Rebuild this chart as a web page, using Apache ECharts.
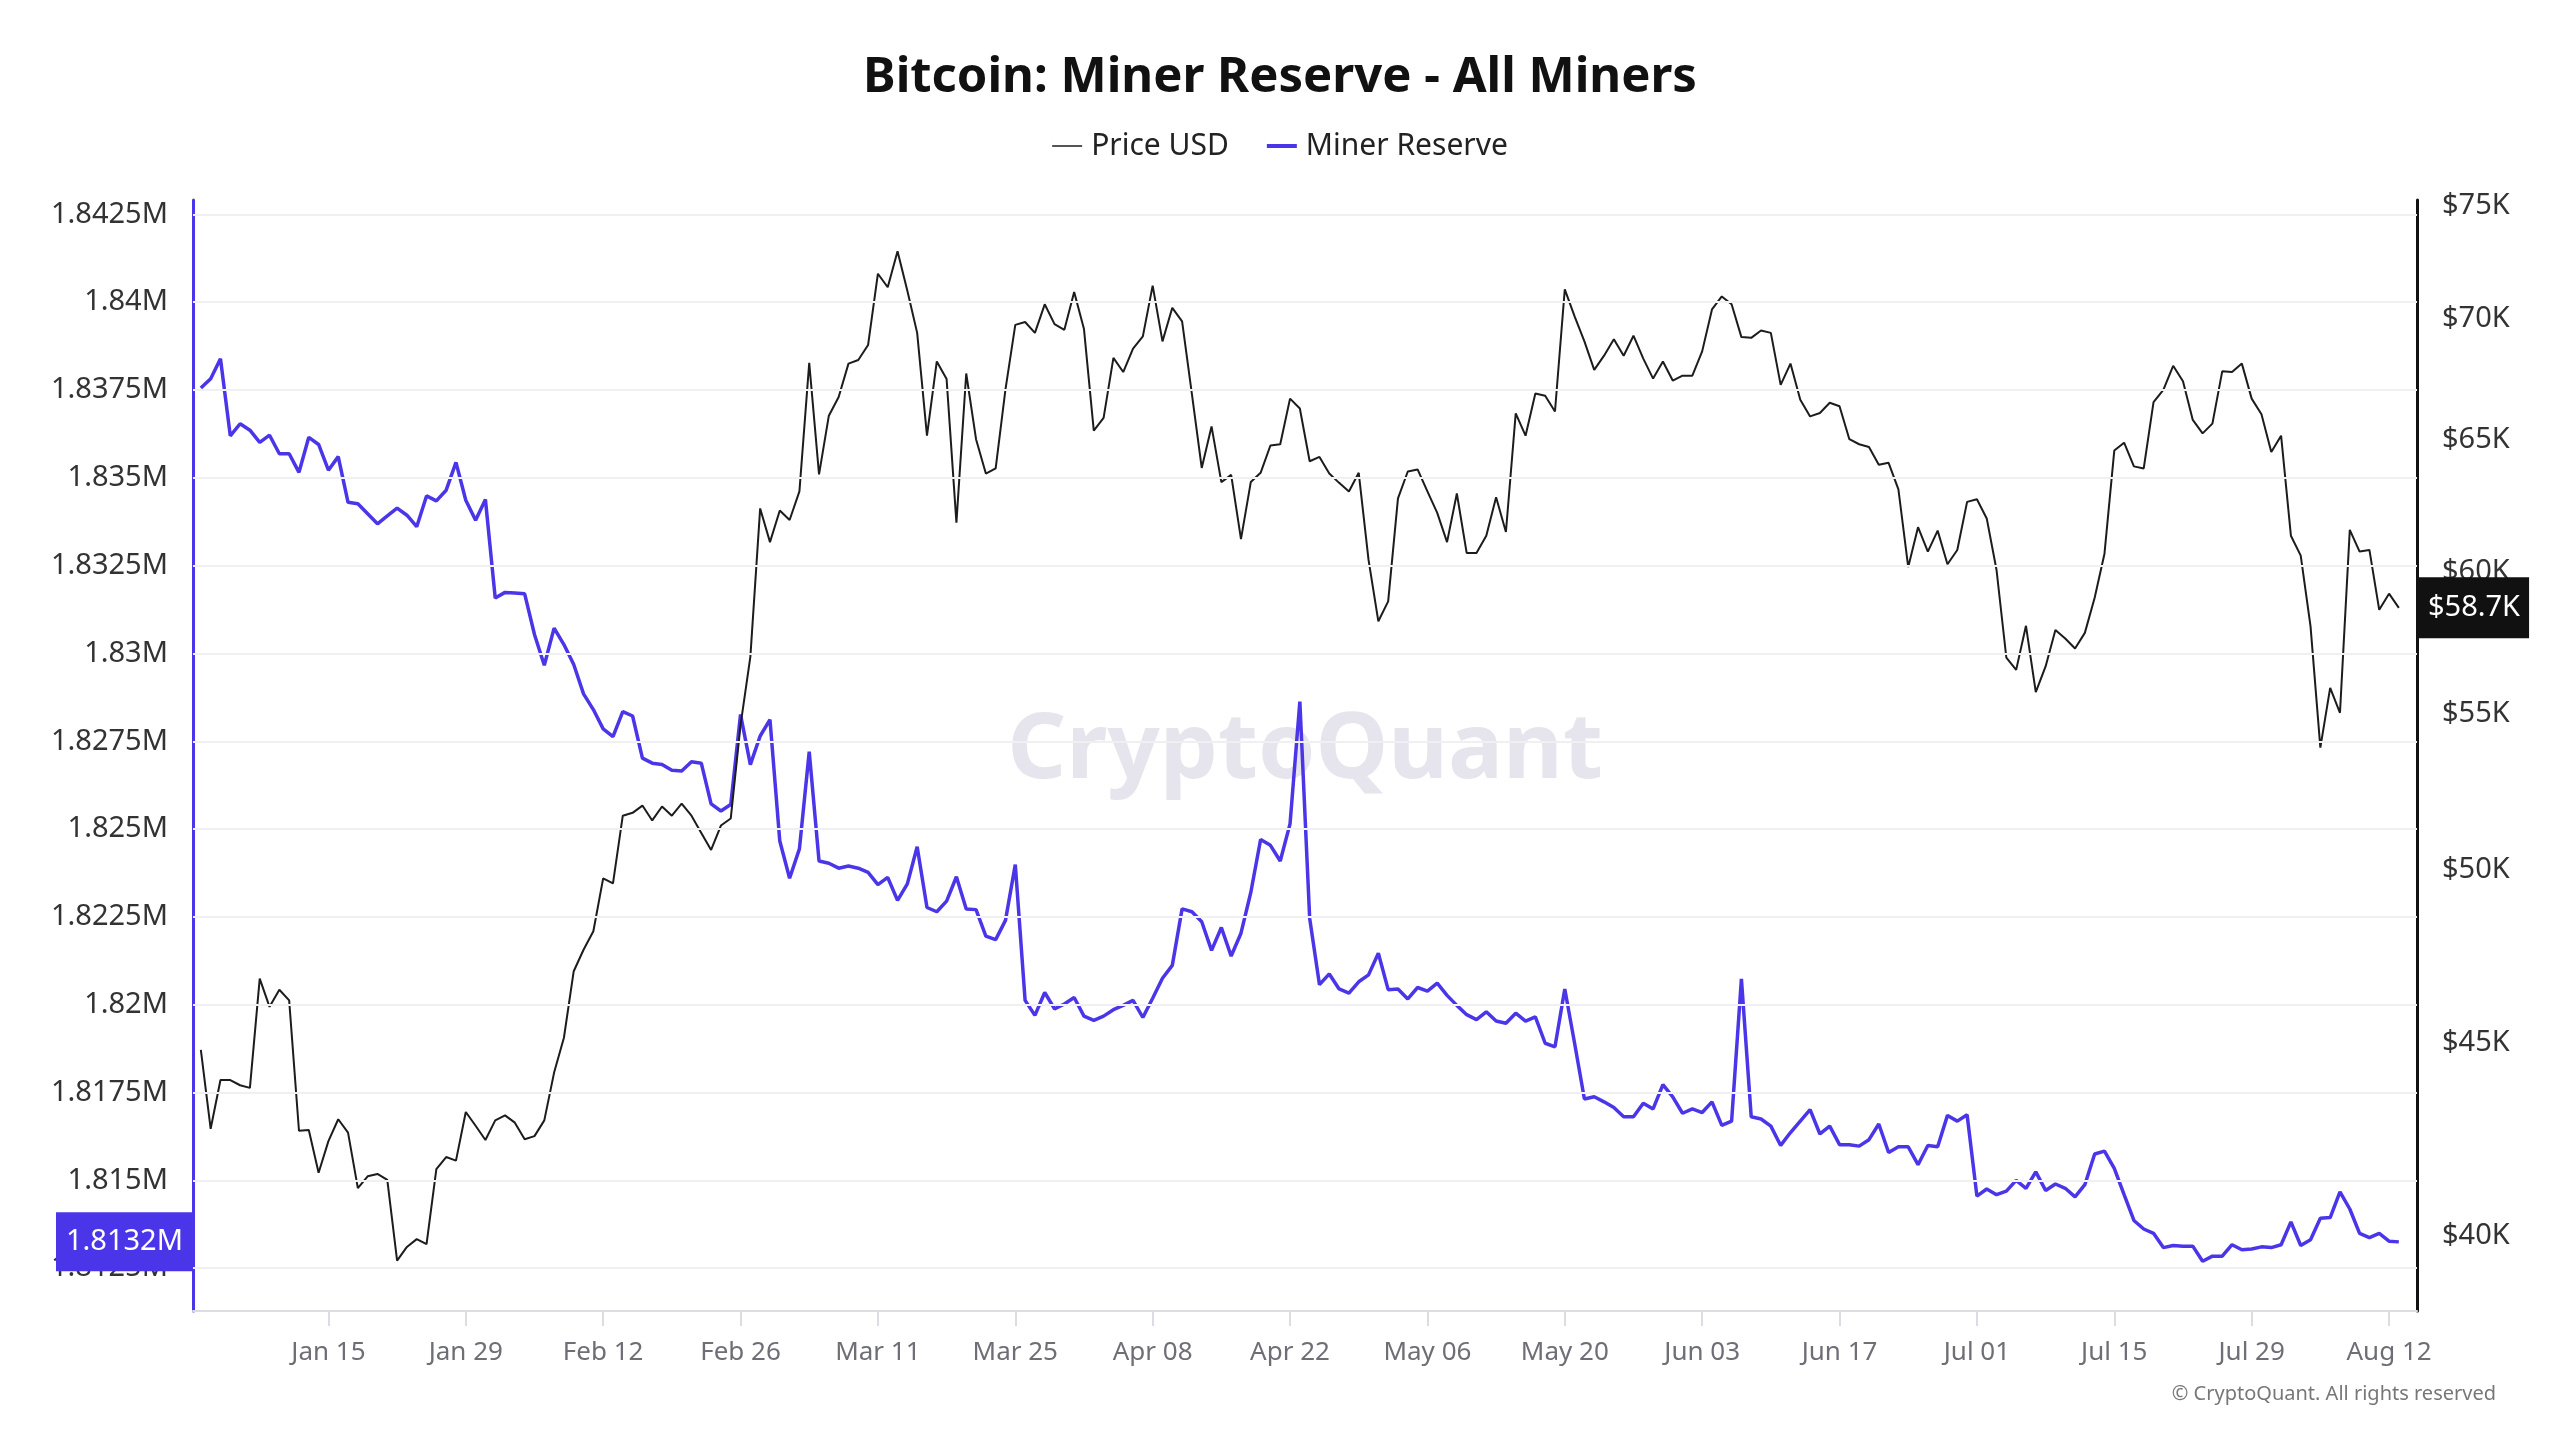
<!DOCTYPE html>
<html><head><meta charset="utf-8">
<script src="https://cdn.jsdelivr.net/npm/echarts@6/dist/echarts.min.js"></script>
<style>html,body{margin:0;padding:0;background:#fff}#c{width:2560px;height:1440px}</style>
</head><body><div id="c"></div>
<script>
// ---------- data (daily, starting 2024-01-02) ----------
const startDate = '2024-01-02';
const priceUSD = [
 44810,42700,43990,43990,43850,43780,46800,46000,46480,46180,
 42650,42670,41570,42380,42950,42600,41180,41480,41540,41390,
 39400,39730,39920,39800,41660,41970,41880,43140,42780,42410,
 42920,43050,42860,42430,42510,42920,44190,45140,47010,47630,
 48170,49750,49600,51690,51780,52010,51540,51980,51690,52070,
 51690,51150,50620,51380,51600,54630,56950,62350,61080,62270,
 61910,63000,68140,63660,65980,66740,68110,68260,68890,71950,
 71360,72940,71210,69400,65180,68200,67470,61810,67700,65040,
 63690,63890,67050,69740,69860,69400,70620,69770,69530,71150,
 69560,65380,65890,68350,67760,68740,69250,71430,69040,70470,
 69890,66850,63910,65550,63360,63640,61190,63360,63720,64790,
 64840,66670,66270,64170,64340,63690,63330,63000,63720,60420,
 58200,58910,62730,63770,63850,63000,62180,61080,62920,60680,
 60680,61320,62780,61460,66070,65180,66880,66790,66150,71270,
 70100,69040,67850,68440,69130,68440,69280,68320,67490,68200,
 67410,67610,67610,68620,70400,70960,70620,69220,69190,69500,
 69400,67230,68110,66620,65950,66090,66500,66360,65040,64840,
 64730,64030,64110,63080,60160,61640,60730,61510,60260,60790,
 62600,62700,61970,60050,56920,56500,58040,55740,56620,57890,
 57590,57240,57790,59040,60650,64590,64900,63970,63890,66530,
 67030,68020,67380,65810,65270,65660,67790,67760,68110,66670,
 66040,64530,65180,61320,60580,58020,53880,55880,55040,61540,
 60730,60790,58610,59190,58680
];
const minerReserve = [
 1837557,1837821,1838391,1836194,1836540,1836357,1836011,1836214,1835685,1835685,
 1835157,1836153,1835950,1835218,1835604,1834302,1834261,1833977,1833692,1833916,
 1834139,1833936,1833610,1834485,1834343,1834648,1835441,1834363,1833794,1834384,
 1831576,1831739,1831719,1831698,1830539,1829664,1830722,1830254,1829685,1828850,
 1828403,1827854,1827630,1828342,1828220,1827020,1826877,1826837,1826674,1826654,
 1826918,1826877,1825718,1825514,1825698,1828261,1826837,1827650,1828118,1824660,
 1823602,1824436,1827203,1824090,1824029,1823887,1823948,1823887,1823765,1823419,
 1823623,1822972,1823440,1824497,1822768,1822646,1822951,1823643,1822728,1822707,
 1821955,1821853,1822402,1823989,1820124,1819697,1820348,1819880,1820022,1820205,
 1819676,1819554,1819676,1819859,1819981,1820124,1819636,1820185,1820754,1821120,
 1822728,1822646,1822361,1821548,1822199,1821385,1822036,1823195,1824701,1824538,
 1824090,1825148,1828627,1822463,1820571,1820876,1820449,1820327,1820653,1820850,
 1821466,1820429,1820449,1820165,1820490,1820388,1820612,1820266,1819981,1819717,
 1819575,1819798,1819534,1819473,1819758,1819534,1819656,1818903,1818802,1820449,
 1818903,1817317,1817378,1817235,1817072,1816808,1816808,1817195,1817032,1817723,
 1817378,1816910,1817032,1816930,1817235,1816564,1816686,1820734,1816808,1816747,
 1816544,1815994,1816361,1816686,1817011,1816320,1816544,1816015,1816015,1815974,
 1816157,1816604,1815791,1815954,1815954,1815445,1815994,1815954,1816849,1816686,
 1816869,1814550,1814754,1814591,1814692,1814998,1814774,1815242,1814713,1814896,
 1814774,1814530,1814876,1815750,1815832,1815343,1814591,1813858,1813614,1813492,
 1813085,1813146,1813126,1813126,1812698,1812841,1812841,1813167,1813024,1813045,
 1813106,1813085,1813167,1813818,1813146,1813309,1813919,1813940,1814672,1814184,
 1813492,1813370,1813492,1813269,1813248
];
const xTickDates = ['2024-01-15','2024-01-29','2024-02-12','2024-02-26','2024-03-11','2024-03-25',
  '2024-04-08','2024-04-22','2024-05-06','2024-05-20','2024-06-03','2024-06-17','2024-07-01',
  '2024-07-15','2024-07-29','2024-08-12'];
const reserveTicks = [1812500,1815000,1817500,1820000,1822500,1825000,1827500,1830000,
  1832500,1835000,1837500,1840000,1842500];
const priceTicks = [40000,45000,50000,55000,60000,65000,70000,75000];

// ---------- chart ----------
const DAY = 86400000;
const t0 = Date.parse(startDate + 'T00:00:00Z');
const dates = priceUSD.map((_, i) => t0 + i * DAY);
const xTickValues = xTickDates.map(d => Date.parse(d + 'T00:00:00Z'));
const PURPLE = '#4a36e8';
const FONT = '"Noto Sans", sans-serif';
const fmtM = v => parseFloat((v / 1e6).toFixed(4)) + 'M';
const lastPrice = priceUSD[priceUSD.length - 1];
const lastReserve = minerReserve[minerReserve.length - 1];
// legend icons: plain bars, vertically centred in a 30x14 box
const thinBar = 'path://M0,0L0.01,0L0.01,14L0,14Z M0,6L30,6L30,8L0,8Z';
const thickBar = 'path://M0,0L0.01,0L0.01,14L0,14Z M0,5L30,5L30,9L0,9Z';

const chart = echarts.init(document.getElementById('c'), null, {renderer: 'canvas'});
chart.setOption({
  useUTC: true,
  animation: false,
  backgroundColor: '#ffffff',
  textStyle: {fontFamily: FONT},
  title: {
    text: 'Bitcoin: Miner Reserve - All Miners', left: 'center', top: 49,
    textStyle: {fontSize: 49, fontWeight: 'bold', color: '#111', fontFamily: FONT}
  },
  legend: {
    top: 126, left: 'center', itemWidth: 30, itemHeight: 14, itemGap: 38,
    data: [
      {name: 'Price USD', icon: thinBar, itemStyle: {color: '#555'}},
      {name: 'Miner Reserve', icon: thickBar, itemStyle: {color: PURPLE}}
    ],
    textStyle: {fontSize: 30, color: '#222', fontFamily: FONT, padding: [0, 0, 0, 4]}
  },
  grid: {left: 193, right: 143, top: 200, bottom: 129, containLabel: false, outerBoundsMode: 'none'},
  xAxis: {
    type: 'time',
    min: t0 - 0.8 * DAY,
    max: dates[dates.length - 1] + 1.85 * DAY,
    axisLine: {onZero: false, lineStyle: {color: '#dcdce3', width: 2}},
    axisTick: {show: true, customValues: xTickValues, length: 15, lineStyle: {color: '#dcdce3', width: 2}},
    axisLabel: {customValues: xTickValues, formatter: '{MMM} {dd}', fontSize: 26, color: '#6e6e76',
      margin: 29, hideOverlap: false, fontFamily: FONT},
    splitLine: {show: false}
  },
  yAxis: [
    {
      type: 'value', position: 'left', min: 1811280, max: 1842910,
      axisLine: {show: true, onZero: false, lineStyle: {color: PURPLE, width: 3}},
      axisTick: {show: false}, splitLine: {show: false},
      axisLabel: {customValues: reserveTicks, formatter: fmtM, fontSize: 29, color: '#333', margin: 25, fontFamily: FONT},
      axisPointer: {
        show: true, status: 'show', value: lastReserve, type: 'line', snap: false, triggerTooltip: false,
        lineStyle: {color: 'rgba(0,0,0,0)', width: 0},
        label: {show: true, formatter: p => (p.value / 1e6).toFixed(4) + 'M', backgroundColor: PURPLE,
          color: '#fff', fontSize: 29, fontFamily: FONT, padding: [15, 10, 15, 10], margin: 0, borderRadius: 0}
      }
    },
    {
      type: 'log', logBase: 10, position: 'right', min: 38207, max: 75261,
      axisLine: {show: true, onZero: false, lineStyle: {color: '#111', width: 3}},
      axisTick: {show: false}, splitLine: {show: false},
      axisLabel: {customValues: priceTicks, formatter: v => '$' + Math.round(v / 1000) + 'K', fontSize: 29,
        color: '#333', margin: 25, fontFamily: FONT, padding: [5, 0, 0, 0]},
      axisPointer: {
        show: true, status: 'show', value: lastPrice, type: 'line', snap: false, triggerTooltip: false,
        lineStyle: {color: 'rgba(0,0,0,0)', width: 0},
        label: {show: true, formatter: p => '$' + (p.value / 1000).toFixed(1) + 'K', backgroundColor: '#111',
          color: '#fff', fontSize: 29, fontFamily: FONT, padding: [16, 9, 16, 9], margin: 2, borderRadius: 0}
      }
    }
  ],
  series: [
    {
      name: 'grid', type: 'line', yAxisIndex: 0, data: [], z: 0, silent: true,
      markLine: {
        silent: true, symbol: ['none', 'none'], label: {show: false}, animation: false,
        lineStyle: {color: '#f0f0f3', width: 2, type: 'solid'},
        data: reserveTicks.map(v => ({yAxis: v}))
      }
    },
    {
      name: 'Miner Reserve', type: 'line', yAxisIndex: 0, symbol: 'none', z: 2,
      data: dates.map((t, i) => [t, minerReserve[i]]),
      lineStyle: {color: PURPLE, width: 3.5}, itemStyle: {color: PURPLE}
    },
    {
      name: 'Price USD', type: 'line', yAxisIndex: 1, symbol: 'none', z: 3,
      data: dates.map((t, i) => [t, priceUSD[i]]),
      lineStyle: {color: '#1c1c1c', width: 2}, itemStyle: {color: '#1c1c1c'}
    }
  ],
  graphic: [
    {type: 'text', x: 1305, y: 752, z: 0, silent: true,
      style: {text: 'CryptoQuant', fill: '#e6e5ed', fontSize: 92, fontWeight: 'bold', fontFamily: FONT,
        align: 'center', verticalAlign: 'middle'}},
    {type: 'text', right: 64, top: 1384, silent: true,
      style: {text: '\u00a9 CryptoQuant. All rights reserved', fill: '#777', fontSize: 20, fontFamily: FONT}}
  ]
});
</script>
</body></html>
